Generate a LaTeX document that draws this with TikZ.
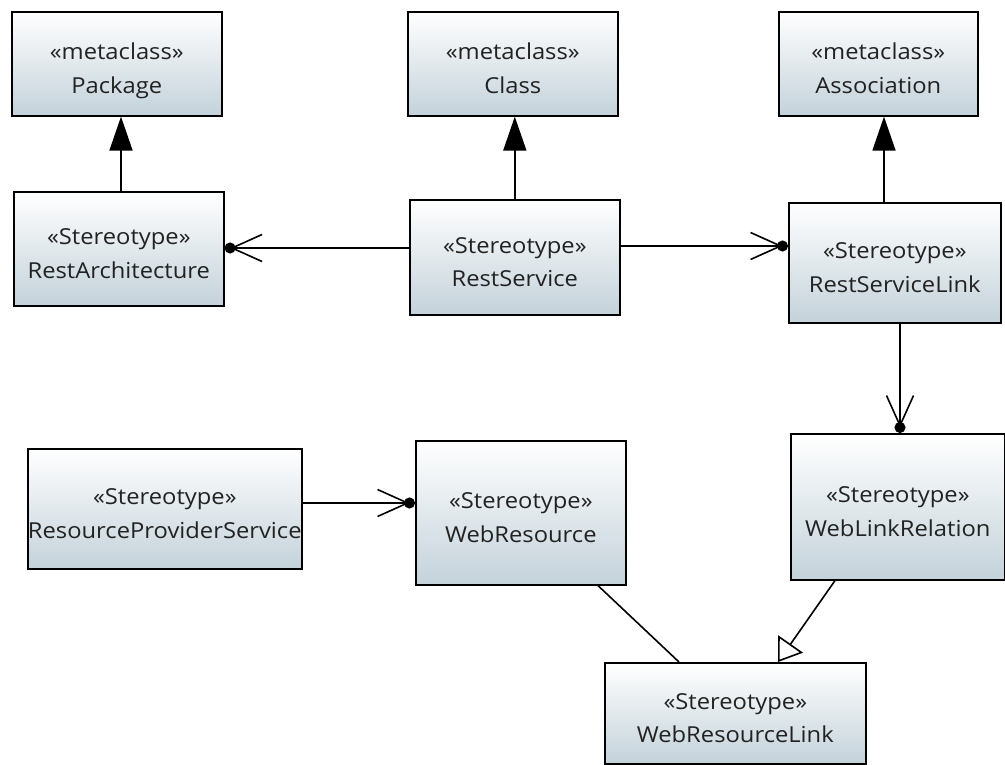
\documentclass[tikz,border=0pt]{standalone}
\usepackage{fontspec}
\setmainfont{Open Sans}[FakeStretch=1.08]
\usetikzlibrary{arrows.meta}
\definecolor{boxbot}{RGB}{196,210,218}
\definecolor{txt}{RGB}{34,34,34}
\tikzset{
 box/.style={draw=black, line width=1.6pt, top color=white, bottom color=boxbot, anchor=north west, inner sep=0pt, align=center, text=txt, text height=59pt, text depth=0pt, font=\fontsize{22}{33.5}\selectfont},
 ext/.style={line width=1.6pt, -{Triangle[length=34pt,width=23pt]}},
 nav/.style={line width=1.6pt, -{Straight Barb[length=30pt,width=27pt,sep=-5.5pt]Circle[length=11pt,width=11pt]}},
 gen/.style={line width=1.6pt, -{Triangle[open,length=22pt,width=30pt,fill=white]}},
 assoc/.style={line width=1.6pt},
}
\begin{document}
\begin{tikzpicture}[x=1pt,y=-1pt]
\useasboundingbox (0,0) rectangle (1005,765);
\node[box, minimum width=210pt, minimum height=104pt] (pkg) at (11,11) {«metaclass»\\Package};
\node[box, minimum width=210pt, minimum height=104pt] (cls) at (407,11) {«metaclass»\\Class};
\node[box, minimum width=199pt, minimum height=104pt] (asc) at (778,11) {«metaclass»\\Association};
\node[box, minimum width=210pt, minimum height=114pt] (ra) at (13,191) {«Stereotype»\\RestArchitecture};
\node[box, minimum width=210pt, minimum height=115pt] (rs) at (409,199) {«Stereotype»\\RestService};
\node[box, minimum width=212pt, minimum height=120pt] (rsl) at (788,202) {«Stereotype»\\RestServiceLink};
\node[box, minimum width=274pt, minimum height=120pt] (rps) at (27,448) {«Stereotype»\\ResourceProviderService};
\node[box, minimum width=210pt, minimum height=144pt] (wr) at (415,440) {«Stereotype»\\WebResource};
\node[box, minimum width=214pt, minimum height=146pt] (wlr) at (790,433) {«Stereotype»\\WebLinkRelation};
\node[box, minimum width=261pt, minimum height=101pt] (wrl) at (604,662) {«Stereotype»\\WebResourceLink};
\draw[ext] (121,0 |- ra.north) -- (121,0 |- pkg.south);
\draw[ext] (rs.north) -- (rs.north |- cls.south);
\draw[ext] (884,0 |- rsl.north) -- (884,0 |- asc.south);
\draw[nav] (rs.west |- 0,248) -- (ra.east |- 0,248);
\draw[nav] (rs.east |- 0,246) -- (rsl.west |- 0,246);
\draw[nav] (900,0 |- rsl.south) -- (900,0 |- wlr.north);
\draw[nav] (rps.east |- 0,503) -- (wr.west |- 0,503);
\draw[assoc] (598,0 |- wr.south) -- (679,0 |- wrl.north);
\draw[gen] (835,0 |- wlr.south) -- (778,0 |- wrl.north);
\end{tikzpicture}
\end{document}
